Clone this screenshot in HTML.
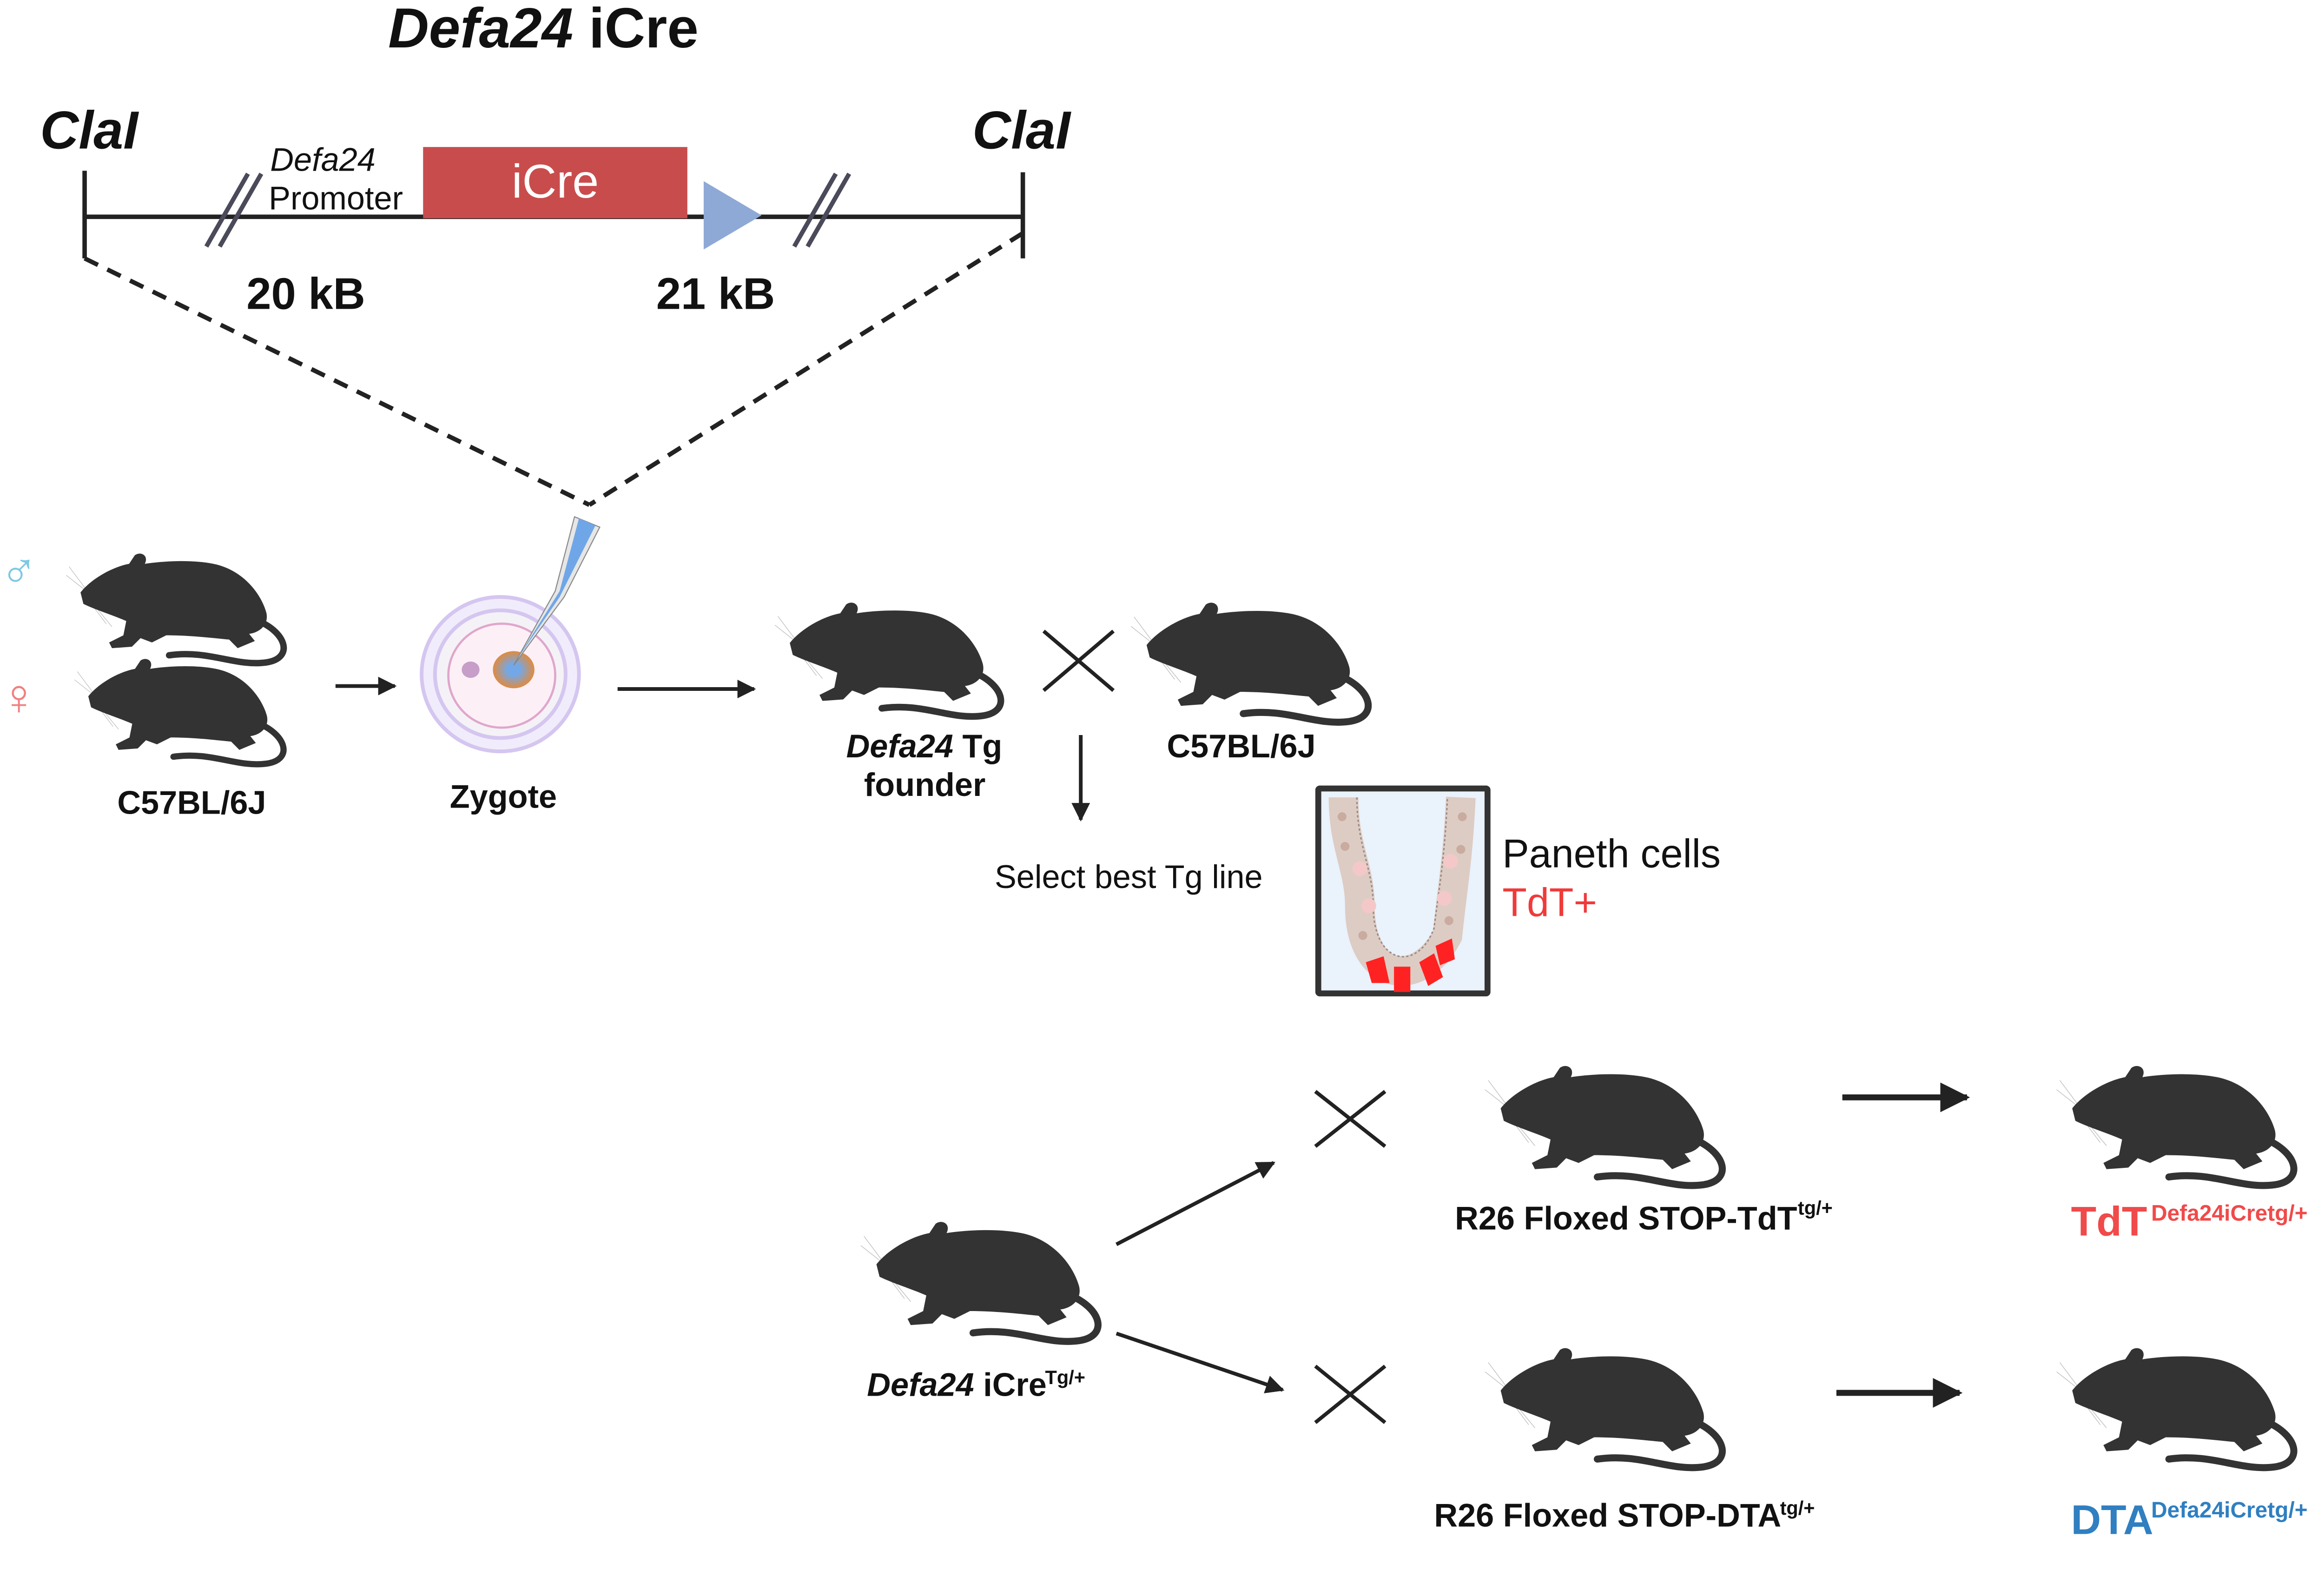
<!DOCTYPE html>
<html><head><meta charset="utf-8"><style>
html,body{margin:0;padding:0;background:#fff;overflow:hidden;}
svg{display:block;}
text{font-family:"Liberation Sans",Arial,sans-serif;fill:#111;}
</style></head><body>
<svg width="5149" height="3392" viewBox="0 0 1612 1062" preserveAspectRatio="xMinYMin meet" xmlns="http://www.w3.org/2000/svg">
<defs>
<symbol id="m" viewBox="0 0 150 80" overflow="visible">
<g stroke="#bbb" stroke-width="0.4" fill="none"><path d="M6,26 L-6,10 M6,27 L-8,16 M8,34 L20,50 M10,35 L24,52"/></g>
<path fill="#333" d="M2,28 C10,18 25,10 36,8 L40,2 C44,-1 50,2 47,8 C60,6 80,5 95,8 C115,12 128,28 132,42 C134,50 128,56 120,57 L124,62 L112,67 L106,61 C95,60 80,58 62,58 L52,63 L44,60 L38,66 L24,67 L22,63 L32,58 L34,48 C25,44 12,40 4,36 Z"/>
<path fill="none" stroke="#333" stroke-width="4.5" stroke-linecap="round" d="M124,47 C146,55 152,74 132,77 C110,80 92,68 64,72"/>
</symbol>
<marker id="a" viewBox="0 0 10 10" refX="9" refY="5" markerWidth="5" markerHeight="5" orient="auto"><path d="M0,0 L10,5 L0,10 Z" fill="#222"/></marker>
<radialGradient id="g"><stop offset="0.3" stop-color="#72a8e8"/><stop offset="1" stop-color="#e08b40"/></radialGradient>
</defs>

<text x="366" y="32" text-anchor="middle" font-size="38" font-weight="bold"><tspan font-style="italic">Defa24</tspan> iCre</text>
<text x="27" y="100" font-size="36" font-weight="bold" font-style="italic">ClaI</text>
<text x="655" y="100" font-size="36" font-weight="bold" font-style="italic">ClaI</text>

<g stroke="#222" stroke-width="3" fill="none">
<line x1="57" y1="146" x2="690" y2="146"/>
<line x1="57" y1="115" x2="57" y2="174"/>
<line x1="689" y1="116" x2="689" y2="174"/>
</g>
<g stroke="#4a4a5a" stroke-width="3">
<line x1="139" y1="166" x2="167" y2="117"/><line x1="148" y1="166" x2="176" y2="117"/>
<line x1="535" y1="166" x2="563" y2="117"/><line x1="544" y1="166" x2="572" y2="117"/>
</g>
<text x="182" y="115" font-size="22" font-style="italic">Defa24</text>
<text x="181" y="141" font-size="22">Promoter</text>
<rect x="285" y="99" width="178" height="48" fill="#c94c4c"/>
<text x="374" y="133" text-anchor="middle" font-size="32" style="fill:#fff">iCre</text>
<polygon points="474,122 474,168 513,145" fill="#8fa9d6"/>
<text x="166" y="208" font-size="30" font-weight="bold">20 kB</text>
<text x="442" y="208" font-size="30" font-weight="bold">21 kB</text>
<g stroke="#222" stroke-width="3" stroke-dasharray="10 7" fill="none">
<line x1="57" y1="174" x2="397" y2="340"/>
<line x1="689" y1="157" x2="397" y2="340"/>
</g>

<ellipse cx="337" cy="454" rx="53" ry="52" fill="#f1ecfb" stroke="#d4c6f0" stroke-width="2.5"/>
<ellipse cx="337" cy="454" rx="44" ry="43" fill="#f4f2f6" stroke="#d4c6f0" stroke-width="2.5"/>
<ellipse cx="338" cy="455" rx="36" ry="35" fill="#fcf0f6" stroke="#e0a6cc" stroke-width="1.5"/>
<ellipse cx="317" cy="451" rx="6" ry="5.5" fill="#c69ec8"/>
<ellipse cx="346" cy="451" rx="14" ry="12.5" fill="url(#g)"/>
<polygon points="387,348 404,355 380,402 346,448 374,398" fill="#e6e6e6" stroke="#888" stroke-width="0.7"/>
<polygon points="390,349 401,354 377,402 347,446 377,398" fill="#6fa6e8"/>

<text x="0" y="396" font-size="34" style="fill:#7ec8e3">♂</text>
<text x="0" y="481" font-size="34" style="fill:#f08080">♀</text>

<use href="#m" x="52" y="372" width="145" height="77"/>
<use href="#m" x="57" y="443" width="140" height="74"/>
<text x="79" y="548" font-size="22" font-weight="bold">C57BL/6J</text>
<text x="303" y="544" font-size="22" font-weight="bold">Zygote</text>

<g stroke="#222" stroke-width="2.5" fill="none">
<line x1="226" y1="462" x2="266" y2="462" marker-end="url(#a)"/>
<line x1="416" y1="464" x2="508" y2="464" marker-end="url(#a)"/>
<line x1="728" y1="495" x2="728" y2="552" marker-end="url(#a)"/>
<line x1="752" y1="838" x2="858" y2="783" marker-end="url(#a)"/>
<line x1="752" y1="898" x2="864" y2="936" marker-end="url(#a)"/>
<line x1="703" y1="425" x2="750" y2="465"/><line x1="750" y1="425" x2="703" y2="465"/>
<line x1="886" y1="735" x2="933" y2="772"/><line x1="933" y1="735" x2="886" y2="772"/>
<line x1="886" y1="920" x2="933" y2="958"/><line x1="933" y1="920" x2="886" y2="958"/>
</g>
<g stroke="#222" stroke-width="4" fill="none">
<line x1="1241" y1="739" x2="1325" y2="739" marker-end="url(#a)"/>
<line x1="1237" y1="938" x2="1320" y2="938" marker-end="url(#a)"/>
</g>

<use href="#m" x="530" y="405" width="150" height="80"/>
<use href="#m" x="770" y="405" width="158" height="84"/>
<text x="570" y="510" font-size="22" font-weight="bold"><tspan font-style="italic">Defa24</tspan> Tg</text>
<text x="582" y="536" font-size="22" font-weight="bold">founder</text>
<text x="786" y="510" font-size="22" font-weight="bold">C57BL/6J</text>
<text x="670" y="598" font-size="22">Select best Tg line</text>

<rect x="888" y="531" width="114" height="138" fill="#eaf2fb" stroke="#333" stroke-width="4" rx="1"/>
<path d="M905,537 C905,570 916,585 916,610 C916,660 955,668 975,630 C978,600 982,580 984,537" fill="none" stroke="#ddccc4" stroke-width="20"/>
<path d="M914,537 C914,570 925,585 925,610 C925,650 955,655 966,625 C969,600 973,580 975,537" fill="none" stroke="#9a8a84" stroke-width="1" stroke-dasharray="1.5 1.5"/>
<g fill="#ff2222">
<path d="M920,648 L932,644 L936,662 L924,662 Z"/>
<path d="M939,651 L950,651 L950,668 L939,668 Z"/>
<path d="M956,648 L966,642 L972,658 L962,664 Z"/>
<path d="M967,637 L978,632 L980,646 L970,650 Z"/>
</g>
<g fill="#c9aba0"><circle cx="904" cy="550" r="3"/><circle cx="906" cy="570" r="3"/><circle cx="985" cy="550" r="3"/><circle cx="984" cy="572" r="3"/><circle cx="918" cy="630" r="3"/><circle cx="976" cy="620" r="3"/></g>
<g fill="#f4c8c8"><circle cx="916" cy="585" r="5"/><circle cx="977" cy="580" r="5"/><circle cx="922" cy="610" r="5"/><circle cx="973" cy="605" r="5"/></g>
<text x="1012" y="584" font-size="27">Paneth cells</text>
<text x="1012" y="617" font-size="27" style="fill:#f03a3a">TdT+</text>

<use href="#m" x="1008" y="717" width="159" height="84"/>
<use href="#m" x="1393" y="717" width="159" height="84"/>
<use href="#m" x="588" y="822" width="158" height="84"/>
<use href="#m" x="1008" y="907" width="159" height="84"/>
<use href="#m" x="1393" y="907" width="159" height="84"/>

<text x="980" y="828" font-size="22" font-weight="bold">R26 Floxed STOP-TdT</text>
<text x="1211" y="818" font-size="13" font-weight="bold">tg/+</text>
<text x="1395" y="832" font-size="28" font-weight="bold" style="fill:#f04a4a">TdT</text>
<text x="1449" y="822" font-size="15" font-weight="bold" style="fill:#f04a4a">Defa24iCretg/+</text>
<text x="584" y="940" font-size="22" font-weight="bold"><tspan font-style="italic">Defa24</tspan> iCre</text>
<text x="704" y="932" font-size="13" font-weight="bold">Tg/+</text>
<text x="966" y="1028" font-size="22" font-weight="bold">R26 Floxed STOP-DTA</text>
<text x="1199" y="1020" font-size="13" font-weight="bold">tg/+</text>
<text x="1395" y="1033" font-size="28" font-weight="bold" style="fill:#2f7fc1">DTA</text>
<text x="1449" y="1022" font-size="15" font-weight="bold" style="fill:#2f7fc1">Defa24iCretg/+</text>
</svg>
</body></html>
